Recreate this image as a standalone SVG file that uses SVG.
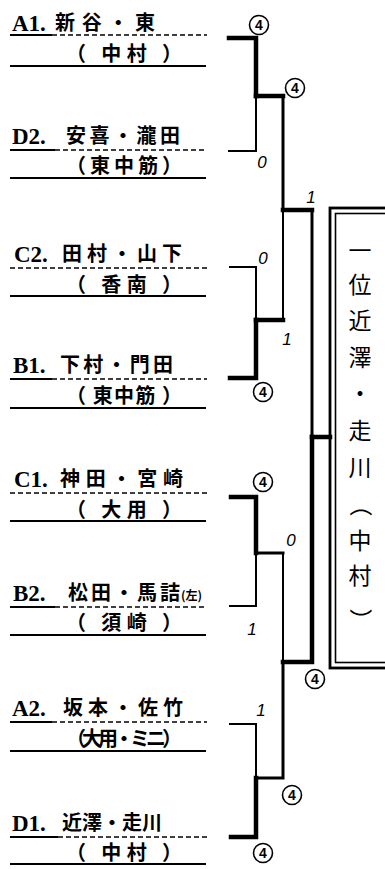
<svg xmlns="http://www.w3.org/2000/svg" width="385" height="869" viewBox="0 0 385 869">
<style>
.bg{fill:#fff}
.lbl{font-family:"Liberation Serif",serif;font-weight:bold;font-size:23px;fill:#000}
.nm{font-family:"Noto Sans CJK JP","Noto Sans CJK SC",sans-serif;font-size:20px;font-weight:bold;fill:#000}
.pr{font-family:"Noto Sans CJK JP","Noto Sans CJK SC",sans-serif;font-size:20px;font-weight:bold;fill:#000}
.sm{font-family:"Noto Sans CJK JP",sans-serif;font-size:12px;font-weight:bold;fill:#000}
.dash{stroke:#000;stroke-width:1.6;stroke-dasharray:5 3;fill:none}
.ul{stroke:#000;stroke-width:1.8;fill:none}
.solid{stroke:#000;stroke-width:2.2;fill:none}
.thin{stroke:#000;stroke-width:2;fill:none;stroke-linecap:square}
.mid{stroke:#000;stroke-width:3;fill:none;stroke-linecap:square}
.thick{stroke:#000;stroke-width:4.5;fill:none;stroke-linecap:square}
.sc circle{fill:none;stroke:#000;stroke-width:1.6}
.sc text{font-family:"Liberation Sans",sans-serif;font-size:14px;font-weight:bold;text-anchor:middle;fill:#000}
.pl{font-family:"Liberation Sans",sans-serif;font-size:17px;font-style:italic;text-anchor:middle;fill:#000}
.vt{font-family:"Noto Sans CJK JP","Noto Sans CJK SC",sans-serif;font-size:23px;text-anchor:middle;fill:#000}
</style>
<rect class="bg" x="0" y="0" width="385" height="869"/>

<g id="entry-A1">
<text class="lbl" x="12" y="31">A1.</text>
<text class="nm" x="55" y="30" textLength="100" lengthAdjust="spacing">新谷・東</text>
<line class="ul" x1="10" y1="35" x2="52" y2="35"/>
<line class="dash" x1="52" y1="35" x2="207" y2="35"/>
<text class="pr" x="66" y="61" textLength="116" lengthAdjust="spacing">（ 中村 ）</text>
<line class="solid" x1="10" y1="66" x2="206" y2="66"/>
</g>

<g id="entry-D2">
<text class="lbl" x="12" y="144">D2.</text>
<text class="nm" x="66" y="143" textLength="114" lengthAdjust="spacing">安喜・瀧田</text>
<line class="ul" x1="10" y1="150" x2="55" y2="150"/>
<line class="dash" x1="55" y1="150" x2="207" y2="150"/>
<text class="pr" x="66" y="173" textLength="116" lengthAdjust="spacing">（東中筋）</text>
<line class="solid" x1="10" y1="178" x2="206" y2="178"/>
</g>

<g id="entry-C2">
<text class="lbl" x="14" y="262">C2.</text>
<text class="nm" x="62" y="261" textLength="120" lengthAdjust="spacing">田村・山下</text>
<line class="dash" x1="10" y1="268" x2="207" y2="268"/>
<text class="pr" x="66" y="292" textLength="116" lengthAdjust="spacing">（ 香南 ）</text>
<line class="solid" x1="10" y1="296" x2="206" y2="296"/>
</g>

<g id="entry-B1">
<text class="lbl" x="13" y="373">B1.</text>
<text class="nm" x="60" y="372" textLength="113" lengthAdjust="spacing">下村・門田</text>
<line class="ul" x1="10" y1="379" x2="52" y2="379"/>
<line class="dash" x1="52" y1="379" x2="207" y2="379"/>
<text class="pr" x="66" y="403" textLength="116" lengthAdjust="spacing">（ 東中筋 ）</text>
<line class="solid" x1="10" y1="408" x2="206" y2="408"/>
</g>

<g id="entry-C1">
<text class="lbl" x="14" y="487">C1.</text>
<text class="nm" x="60" y="486" textLength="123" lengthAdjust="spacing">神田・宮崎</text>
<line class="dash" x1="10" y1="493" x2="207" y2="493"/>
<text class="pr" x="66" y="517" textLength="116" lengthAdjust="spacing">（ 大用 ）</text>
<line class="solid" x1="10" y1="521" x2="206" y2="521"/>
</g>

<g id="entry-B2">
<text class="lbl" x="13" y="601">B2.</text>
<text class="nm" x="68" y="600" textLength="112" lengthAdjust="spacing">松田・馬詰</text>
<text class="sm" x="181" y="600">(左)</text>
<line class="ul" x1="10" y1="607" x2="55" y2="607"/>
<line class="dash" x1="55" y1="607" x2="207" y2="607"/>
<text class="pr" x="66" y="630" textLength="116" lengthAdjust="spacing">（ 須崎 ）</text>
<line class="solid" x1="10" y1="635" x2="206" y2="635"/>
</g>

<g id="entry-A2">
<text class="lbl" x="12" y="716">A2.</text>
<text class="nm" x="63" y="715" textLength="120" lengthAdjust="spacing">坂本・佐竹</text>
<line class="ul" x1="10" y1="722" x2="52" y2="722"/>
<line class="dash" x1="52" y1="722" x2="207" y2="722"/>
<text class="pr" x="66" y="746" textLength="116" lengthAdjust="spacing">（大用・ミニ）</text>
<line class="solid" x1="10" y1="751" x2="206" y2="751"/>
</g>

<g id="entry-D1">
<text class="lbl" x="12" y="831">D1.</text>
<text class="nm" x="62" y="830" textLength="100" lengthAdjust="spacing">近澤・走川</text>
<line class="ul" x1="10" y1="837" x2="58" y2="837"/>
<line class="dash" x1="58" y1="837" x2="207" y2="837"/>
<text class="pr" x="66" y="860" textLength="116" lengthAdjust="spacing">（ 中村 ）</text>
<line class="solid" x1="10" y1="864" x2="206" y2="864"/>
</g>

<g id="connectors">
<path class="thick" d="M229 38 H256 V96"/>
<path class="thin" d="M229 151 H256 V96"/>
<path class="thin" d="M230 267 H256 V320"/>
<path class="thick" d="M230 378 H256 V320"/>
<path class="thick" d="M256 96 H283"/>
<path class="mid" d="M283 96 V210"/>
<path class="thin" d="M283 210 V320"/>
<path class="thick" d="M256 320 H283"/>
<path class="thick" d="M231 497 H256 V553"/>
<path class="thin" d="M230 606 H256 V553"/>
<path class="thin" d="M230 724 H256 V778"/>
<path class="thick" d="M231 837 H256 V778"/>
<path class="mid" d="M256 553 H283"/>
<path class="thin" d="M283 553 V662"/>
<path class="mid" d="M256 778 H283 V662"/>
<path class="thick" d="M283 210 H312"/>
<path class="mid" d="M312 210 V437"/>
<path class="thick" d="M283 662 H312 V437"/>
<path class="thick" d="M312 437 H330"/>
</g>

<g id="scores">
<g class="sc"><circle cx="259" cy="25" r="9.5"/><text x="259" y="30">4</text></g>
<text class="pl" x="262" y="168">0</text>
<g class="sc"><circle cx="295" cy="88" r="9.5"/><text x="295" y="93">4</text></g>
<text class="pl" x="311" y="203">1</text>
<text class="pl" x="263" y="264">0</text>
<text class="pl" x="287" y="345">1</text>
<g class="sc"><circle cx="263" cy="392" r="9.5"/><text x="263" y="397">4</text></g>
<g class="sc"><circle cx="263" cy="482" r="9.5"/><text x="263" y="487">4</text></g>
<text class="pl" x="291" y="546">0</text>
<text class="pl" x="252" y="635">1</text>
<g class="sc"><circle cx="315" cy="679" r="9.5"/><text x="315" y="684">4</text></g>
<text class="pl" x="261" y="716">1</text>
<g class="sc"><circle cx="292" cy="795" r="9.5"/><text x="292" y="800">4</text></g>
<g class="sc"><circle cx="263" cy="853" r="9.5"/><text x="263" y="858">4</text></g>
</g>

<g id="winner">
<rect x="330" y="208" width="70" height="460" fill="none" stroke="#000" stroke-width="2.8"/>
<rect x="335.5" y="213.5" width="70" height="449" fill="none" stroke="#000" stroke-width="1.6"/>
<text class="vt" x="360" y="259">一</text>
<text class="vt" x="360" y="293">位</text>
<text class="vt" x="360" y="329">近</text>
<text class="vt" x="360" y="366">澤</text>
<text class="vt" x="360" y="402">・</text>
<text class="vt" x="360" y="439">走</text>
<text class="vt" x="360" y="476">川</text>
<text class="vt" transform="rotate(90 360 505)" x="360" y="513">（</text>
<text class="vt" x="360" y="549">中</text>
<text class="vt" x="360" y="584">村</text>
<text class="vt" transform="rotate(90 360 620)" x="360" y="628">）</text>
</g>
</svg>
